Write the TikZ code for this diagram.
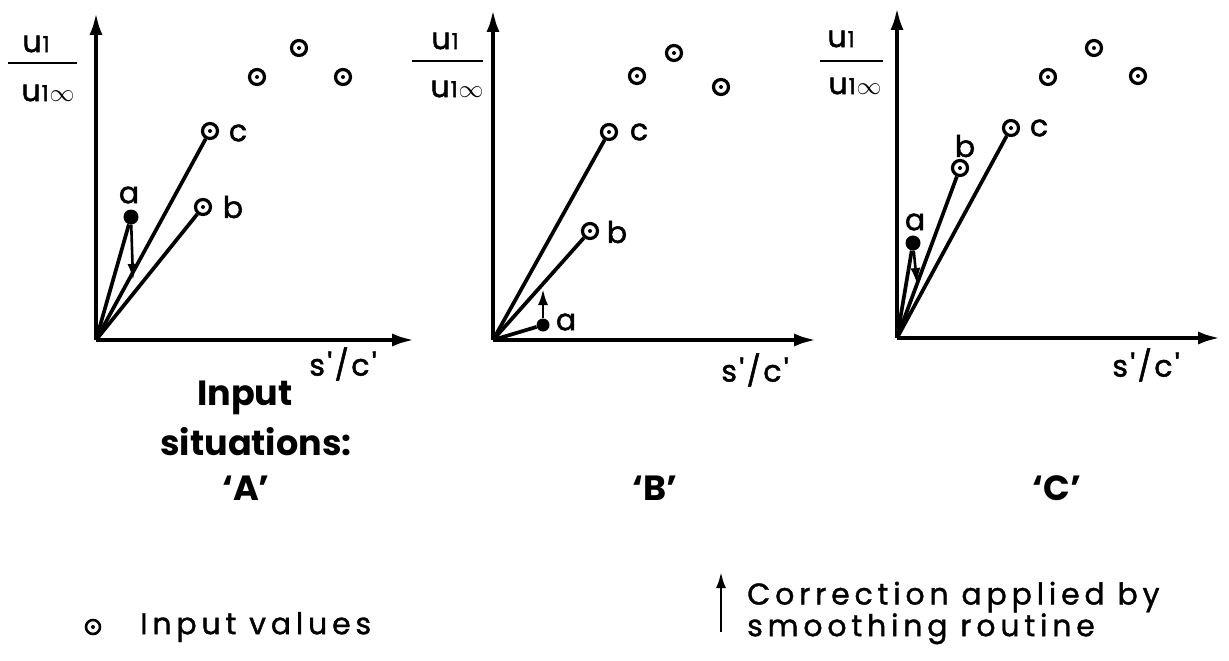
\documentclass[tikz,border=0pt]{standalone}
\usepackage{fontspec}
\setmainfont{Poppins}
\newfontfamily\labfont[FakeBold=1.6]{Poppins}
\newfontfamily\legfont[FakeBold=1.2,LetterSpace=16]{Poppins}
\newfontfamily\scfont[FakeBold=1.6,LetterSpace=8]{Poppins}
\usetikzlibrary{arrows.meta}
\begin{document}
\begin{tikzpicture}[x=1pt,y=-1pt,
  axisline/.style={line width=4.3pt,-{Latex[length=23pt,width=13pt]}},
  rayl/.style={line width=3.7pt},
  inp/.style={circle,draw,line width=3.2pt,minimum size=15pt,inner sep=0pt,
    path picture={\fill (path picture bounding box.center) circle (2pt);}},
  sol/.style={circle,fill,minimum size=15pt,inner sep=0pt},
  corr/.style={line width=2.6pt,-{Latex[length=16pt,width=10pt]}},
  lbl/.style={font=\labfont\fontsize{30}{34}\selectfont,inner sep=0pt},
  frac/.style={font=\labfont\fontsize{30}{34}\selectfont,inner sep=0pt},
  sc/.style={font=\scfont\fontsize{30}{34}\selectfont,inner sep=0pt},
  bar/.style={line width=2.6pt},
  title/.style={font=\fontsize{35}{40}\selectfont\bfseries,inner sep=0pt},
  legend/.style={font=\legfont\fontsize{30}{28}\selectfont,inner sep=0pt,anchor=west}
]
\useasboundingbox (0,0) rectangle (1229,661);
\newcommand{\uone}{u\kern1pt{\fontsize{22}{22}\selectfont 1}}
\newcommand{\uinf}{u\kern1pt{\fontsize{22}{22}\selectfont 1}\kern1pt$\infty$}

% ---------- Panel A ----------
\coordinate (oA) at (96,340);
\coordinate (yA) at (96,12);
\coordinate (xA) at (415,340);
\draw[axisline] (oA) -- (yA);
\draw[axisline] (oA) -- (xA);
\node[inp] (pA1) at (257,77) {};
\node[inp] (pA2) at (299,48) {};
\node[inp] (pA3) at (343,77) {};
\node[inp] (cA) at (210,131) {};
\node[inp] (bA) at (203,207) {};
\node[sol] (aA) at (131,217) {};
\coordinate (aAt) at (133,280);
\draw[rayl] (oA) -- (cA);
\draw[rayl] (oA) -- (bA);
\draw[rayl] (oA) -- (aA);
\draw[corr] (aA) -- (aAt);
\node[lbl] (lcA) at (238,133) {c};
\node[lbl] (lbA) at (233,207) {b};
\node[lbl] (laA) at (129,195) {a};
\node[frac] (nA) at (36,44) {\uone};
\node[frac] (dA) at (48,93) {\uinf};
\coordinate (bA1) at (8,63);
\coordinate (bA2) at (77,63);
\draw[bar] (bA1) -- (bA2);
\node[sc] (scA) at (343,364) {s'/c'};

% ---------- Panel B ----------
\coordinate (oB) at (493,340);
\coordinate (yB) at (493,9);
\coordinate (xB) at (817,340);
\draw[axisline] (oB) -- (yB);
\draw[axisline] (oB) -- (xB);
\node[inp] (pB1) at (637,76) {};
\node[inp] (pB2) at (674,53) {};
\node[inp] (pB3) at (721,87) {};
\node[inp] (cB) at (609,132) {};
\node[inp] (bB) at (590,231) {};
\node[sol,minimum size=13pt] (aB) at (543,325) {};
\coordinate (aBt) at (543,289);
\draw[rayl] (oB) -- (cB);
\draw[rayl] (oB) -- (bB);
\draw[rayl] (oB) -- (aB);
\draw[corr] (aB) -- (aBt);
\node[lbl] (lcB) at (639,132) {c};
\node[lbl] (lbB) at (617,232) {b};
\node[lbl] (laB) at (566,322) {a};
\node[frac] (nB) at (445,41) {\uone};
\node[frac] (dB) at (457,89) {\uinf};
\coordinate (bB1) at (412,61);
\coordinate (bB2) at (483,61);
\draw[bar] (bB1) -- (bB2);
\node[sc] (scB) at (755,370) {s'/c'};

% ---------- Panel C ----------
\coordinate (oC) at (897,338);
\coordinate (yC) at (897,7);
\coordinate (xC) at (1221,338);
\draw[axisline] (oC) -- (yC);
\draw[axisline] (oC) -- (xC);
\node[inp] (pC1) at (1048,77) {};
\node[inp] (pC2) at (1094,48) {};
\node[inp] (pC3) at (1138,76) {};
\node[inp] (cC) at (1011,128) {};
\node[inp] (bC) at (960,168) {};
\node[sol] (aC) at (913,243) {};
\coordinate (aCt) at (917,284);
\draw[rayl] (oC) -- (cC);
\draw[rayl] (oC) -- (bC);
\draw[rayl] (oC) -- (aC);
\draw[corr] (aC) -- (aCt);
\node[lbl] (lcC) at (1039,128) {c};
\node[lbl] (lbC) at (965,146) {b};
\node[lbl] (laC) at (915,222) {a};
\node[frac] (nC) at (841,39) {\uone};
\node[frac] (dC) at (855,86) {\uinf};
\coordinate (bC1) at (820,61);
\coordinate (bC2) at (883,61);
\draw[bar] (bC1) -- (bC2);
\node[sc] (scC) at (1146,365) {s'/c'};

% ---------- Titles ----------
\node[title] (t1) at (245,398) {Input};
\node[title] (t2) at (256,442) {situations:};
\node[title] (tA) at (246,488) {`A'};
\node[title] (tB) at (655,488) {`B'};
\node[title] (tC) at (1057,488) {`C'};

% ---------- Legend ----------
\node[inp,minimum size=14pt,line width=2.6pt] (lgc) at (93,627) {};
\node[legend] (lgt) at (140,627) {Input values};
\coordinate (lga1) at (721,632);
\coordinate (lga2) at (721,572);
\draw[corr] (lga1) -- (lga2);
\node[legend,align=left] (lgr) at (747,613) {Correction applied by\\smoothing routine};
\end{tikzpicture}
\end{document}
